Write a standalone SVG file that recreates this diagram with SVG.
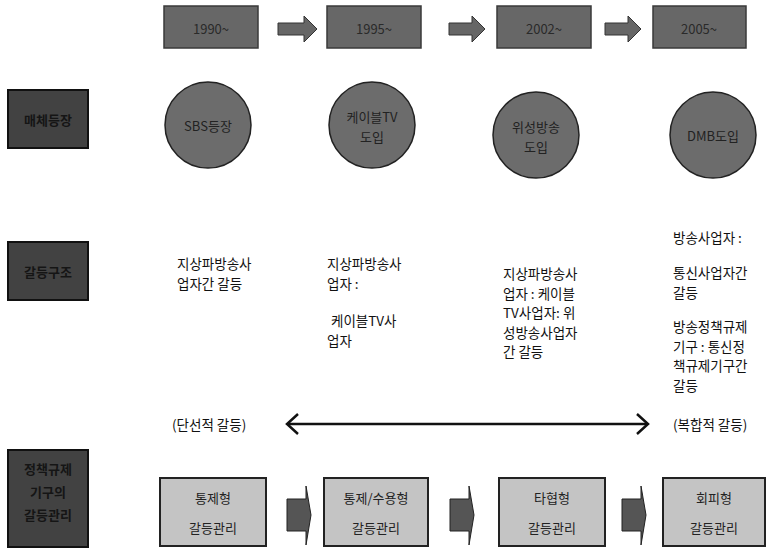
<svg xmlns="http://www.w3.org/2000/svg" width="769" height="550" viewBox="0 0 769 550">
<style>
text{font-family:"Noto Sans CJK KR","Noto Sans",sans-serif;dominant-baseline:central}
.t{font-size:13.5px;fill:#111}
.yr{fill:#676767;stroke:#3a3a3a;stroke-width:1.5}
.yt{font-size:13px;fill:#2a2a2a;text-anchor:middle}
.lab{fill:#424242;stroke:#111;stroke-width:2}
.lt{font-size:13px;fill:#151515;text-anchor:middle;font-weight:bold}
.cir{fill:#6c6c6c;stroke:#222;stroke-width:1.5}
.ct{font-size:13px;fill:#222;text-anchor:middle}
.bx{fill:#c4c4c4;stroke:#222;stroke-width:2}
.bt{font-size:13px;fill:#222;text-anchor:middle}
.arr{fill:#666;stroke:#333;stroke-width:1}
.barr{fill:#555;stroke:#222;stroke-width:1}
</style>
<g id="years">
<g id="y1990"><rect class="yr" x="164" y="6" width="94" height="42"/><text class="yt" x="211" y="28">1990~</text></g>
<g id="y1995"><rect class="yr" x="327" y="6" width="94" height="42"/><text class="yt" x="374" y="28">1995~</text></g>
<g id="y2002"><rect class="yr" x="497" y="6" width="94" height="42"/><text class="yt" x="544" y="28">2002~</text></g>
<g id="y2005"><rect class="yr" x="653" y="6" width="93" height="42"/><text class="yt" x="699" y="28">2005~</text></g>
</g>
<g id="row-labels">
<g id="lab-media"><rect class="lab" x="8" y="90" width="80" height="58"/><text class="lt" x="48" y="119">매체등장</text></g>
<g id="lab-conflict"><rect class="lab" x="8" y="242" width="80" height="58"/><text class="lt" x="48" y="271">갈등구조</text></g>
<g id="lab-mgmt"><rect class="lab" x="8" y="450" width="80" height="97"/><text class="lt" x="48" y="468">정책규제</text><text class="lt" x="48" y="491">기구의</text><text class="lt" x="48" y="514">갈등관리</text></g>
</g>
<g id="media">
<g id="m-sbs"><circle class="cir" cx="208" cy="125" r="43"/><text class="ct" x="208" y="125">SBS등장</text></g>
<g id="m-cable"><circle class="cir" cx="372" cy="125" r="43"/><text class="ct" x="372" y="116">케이블TV</text><text class="ct" x="372" y="136">도입</text></g>
<g id="m-sat"><circle class="cir" cx="536" cy="135" r="43"/><text class="ct" x="536" y="126">위성방송</text><text class="ct" x="536" y="146">도입</text></g>
<g id="m-dmb"><circle class="cir" cx="713" cy="135" r="43"/><text class="ct" x="713" y="135">DMB도입</text></g>
</g>
<g id="conflicts">
<g id="c1"><text class="t" x="177" y="263">지상파방송사</text><text class="t" x="177" y="283">업자간 갈등</text></g>
<g id="c2"><text class="t" x="327" y="263">지상파방송사</text><text class="t" x="327" y="283">업자 :</text><text class="t" x="331" y="320">케이블TV사</text><text class="t" x="327" y="340">업자</text></g>
<g id="c3"><text class="t" x="503" y="273">지상파방송사</text><text class="t" x="503" y="292.5">업자 : 케이블</text><text class="t" x="503" y="312">TV사업자: 위</text><text class="t" x="503" y="331.5">성방송사업자</text><text class="t" x="503" y="351">간 갈등</text></g>
<g id="c4"><text class="t" x="673" y="237">방송사업자 :</text><text class="t" x="673" y="272">통신사업자간</text><text class="t" x="673" y="292">갈등</text><text class="t" x="673" y="326">방송정책규제</text><text class="t" x="673" y="345.5">기구 : 통신정</text><text class="t" x="673" y="365">책규제기구간</text><text class="t" x="673" y="384.5">갈등</text></g>
<text class="t" x="172" y="424">(단선적 갈등)</text>
<text class="t" x="673" y="424">(복합적 갈등)</text>
</g>
<g id="management">
<g id="g1"><rect class="bx" x="160" y="478" width="106" height="68"/><text class="bt" x="213" y="497">통제형</text><text class="bt" x="213" y="527">갈등관리</text></g>
<g id="g2"><rect class="bx" x="324" y="478" width="104" height="68"/><text class="bt" x="376" y="497">통제/수용형</text><text class="bt" x="376" y="527">갈등관리</text></g>
<g id="g3"><rect class="bx" x="499" y="478" width="106" height="68"/><text class="bt" x="552" y="497">타협형</text><text class="bt" x="552" y="527">갈등관리</text></g>
<g id="g4"><rect class="bx" x="663" y="478" width="102" height="68"/><text class="bt" x="714" y="497">회피형</text><text class="bt" x="714" y="527">갈등관리</text></g>
</g>
<g id="connectors">
<polygon class="arr" points="278,23 304,23 304,16 317,29 304,42 304,35 278,35"/>
<polygon class="arr" points="449,23 472,23 472,16 485,29 472,42 472,35 449,35"/>
<polygon class="arr" points="605,23 628,23 628,16 641,29 628,42 628,35 605,35"/>
<polygon class="barr" points="287,499 306,499 306,486 311,515 306,545 306,531 287,531"/>
<polygon class="barr" points="450,499 469,499 469,486 474,515 469,545 469,531 450,531"/>
<polygon class="barr" points="622,499 641,499 641,486 646,515 641,545 641,531 622,531"/>
<g fill="none" stroke="#111" stroke-width="2.5">
<line x1="288" y1="424" x2="647" y2="424"/>
<polyline points="298,414 287,424 298,434"/>
<polyline points="637,414 648,424 637,434"/>
</g>
</g>
</svg>
